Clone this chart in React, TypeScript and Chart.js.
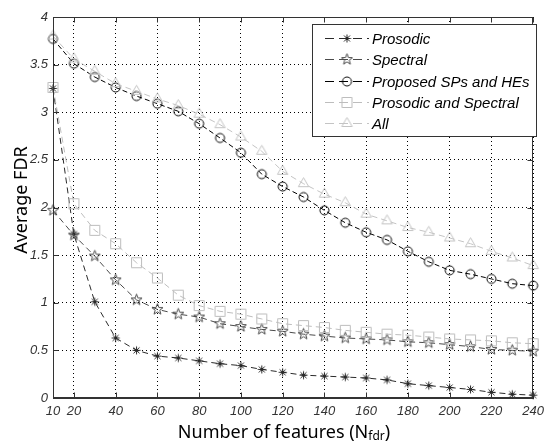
import React, { useEffect, useRef } from "react";
import { Chart, registerables } from "chart.js";

Chart.register(...registerables);

// ---------------- data ----------------
const xValues = [10, 20, 30, 40, 50, 60, 70, 80, 90, 100, 110, 120, 130, 140, 150, 160, 170, 180, 190, 200, 210, 220, 230, 240];
const xTickValues = [10, 20, 40, 60, 80, 100, 120, 140, 160, 180, 200, 220, 240];
const yTickValues = [0, 0.5, 1, 1.5, 2, 2.5, 3, 3.5, 4];

const seriesNames = ["Prosodic", "Spectral", "Proposed SPs and HEs", "Prosodic and Spectral", "All"];

const prosodic = [3.25, 1.72, 1.01, 0.63, 0.50, 0.44, 0.42, 0.39, 0.36, 0.34, 0.30, 0.27, 0.24, 0.23, 0.22, 0.21, 0.19, 0.15, 0.13, 0.11, 0.09, 0.06, 0.04, 0.03];
const spectral = [1.97, 1.71, 1.49, 1.24, 1.03, 0.93, 0.88, 0.85, 0.78, 0.75, 0.72, 0.70, 0.67, 0.65, 0.63, 0.62, 0.61, 0.59, 0.58, 0.56, 0.54, 0.51, 0.50, 0.49];
const proposed = [3.77, 3.51, 3.37, 3.26, 3.17, 3.09, 3.01, 2.88, 2.73, 2.575, 2.35, 2.22, 2.11, 1.97, 1.84, 1.74, 1.66, 1.54, 1.43, 1.34, 1.30, 1.25, 1.20, 1.18];
const prosodicSpectral = [3.26, 2.04, 1.76, 1.62, 1.42, 1.26, 1.08, 0.97, 0.91, 0.88, 0.83, 0.78, 0.76, 0.74, 0.71, 0.69, 0.67, 0.66, 0.64, 0.62, 0.61, 0.60, 0.58, 0.57];
const allFeatures = [3.80, 3.56, 3.43, 3.30, 3.22, 3.14, 3.07, 2.98, 2.87, 2.74, 2.59, 2.38, 2.25, 2.14, 2.05, 1.93, 1.86, 1.79, 1.74, 1.68, 1.62, 1.54, 1.47, 1.39];

const xTitleMain = "Number of features (N";
const xTitleSub = "fdr";
const xTitleEnd = ")";
const yTitle = "Average FDR";

// ---------------- styles ----------------
const seriesColors = ["#2a2a2a", "#4a4a4a", "#000000", "#bdbdbd", "#c4c4c4"];
const seriesMarkers = ["asterisk", "pentagram", "circle", "square", "triangle"];
const seriesDash = [[6, 4], [6, 4], [5, 3], [6, 4], [6, 4]];

function makeMarker(kind: string, color: string): HTMLCanvasElement {
  const S = 17;
  const c = document.createElement("canvas");
  c.width = S;
  c.height = S;
  const g = c.getContext("2d")!;
  const cx = S / 2;
  const cy = S / 2;
  g.strokeStyle = color;
  g.lineWidth = 1;
  g.beginPath();
  if (kind === "asterisk") {
    const r = 4;
    g.moveTo(cx - r, cy); g.lineTo(cx + r, cy);
    g.moveTo(cx, cy - r); g.lineTo(cx, cy + r);
    const d = r * 0.75;
    g.moveTo(cx - d, cy - d); g.lineTo(cx + d, cy + d);
    g.moveTo(cx - d, cy + d); g.lineTo(cx + d, cy - d);
  } else if (kind === "pentagram") {
    const ro = 5.8, ri = 2.4;
    for (let i = 0; i < 10; i++) {
      const r = i % 2 === 0 ? ro : ri;
      const a = -Math.PI / 2 + (i * Math.PI) / 5;
      const px = cx + r * Math.cos(a);
      const py = cy + r * Math.sin(a);
      if (i === 0) g.moveTo(px, py); else g.lineTo(px, py);
    }
    g.closePath();
  } else if (kind === "circle") {
    g.arc(cx, cy, 4.5, 0, Math.PI * 2);
  } else if (kind === "square") {
    g.rect(cx - 5, cy - 5, 10, 10);
  } else if (kind === "triangle") {
    const r = 6;
    g.moveTo(cx, cy - r);
    g.lineTo(cx + r * 0.866, cy + r * 0.5);
    g.lineTo(cx - r * 0.866, cy + r * 0.5);
    g.closePath();
  }
  g.stroke();
  return c;
}

export default function App() {
  const canvasRef = useRef<HTMLCanvasElement | null>(null);

  useEffect(() => {
    const canvas = canvasRef.current;
    if (!canvas) return;

    const seriesValues = [prosodic, spectral, proposed, prosodicSpectral, allFeatures];
    const markers = seriesMarkers.map((m, i) => makeMarker(m, seriesColors[i]));

    const datasets = seriesNames.map((name, i) => ({
      label: name,
      data: xValues.map((x, j) => ({ x, y: seriesValues[i][j] })),
      borderColor: seriesColors[i],
      backgroundColor: seriesColors[i],
      borderWidth: 1,
      borderDash: seriesDash[i],
      pointStyle: markers[i] as any,
      pointRadius: 5,
      pointHoverRadius: 5,
      tension: 0,
      fill: false,
      clip: false as any,
      order: 5 - i,
    }));

    const decorPlugin = {
      id: "decor",
      afterDraw(chart: any) {
        const { ctx, chartArea: a, scales } = chart;
        ctx.save();
        ctx.setLineDash([]);
        // frame
        const L = Math.round(a.left) + 0.5;
        const T = Math.round(a.top) + 0.5;
        const R = Math.round(a.right) - 0.5;
        const B = Math.round(a.bottom) - 0.5;
        ctx.strokeStyle = "#333";
        ctx.lineWidth = 1;
        ctx.strokeRect(L, T, R - L, B - T);
        // inner tick marks
        ctx.beginPath();
        xTickValues.forEach((v) => {
          const px = Math.round(scales.x.getPixelForValue(v)) + 0.5;
          ctx.moveTo(px, B); ctx.lineTo(px, B - 5);
          ctx.moveTo(px, T); ctx.lineTo(px, T + 5);
        });
        yTickValues.forEach((v) => {
          const py = Math.round(scales.y.getPixelForValue(v)) + 0.5;
          ctx.moveTo(L, py); ctx.lineTo(L + 5, py);
          ctx.moveTo(R, py); ctx.lineTo(R - 5, py);
        });
        ctx.stroke();

        // legend
        const bx = 312.5, by = 24.5, bw = 224, bh = 112;
        ctx.fillStyle = "#fff";
        ctx.fillRect(bx, by, bw, bh);
        ctx.strokeStyle = "#333";
        ctx.strokeRect(bx, by, bw, bh);
        ctx.font = 'italic 15px "Liberation Sans"';
        ctx.textBaseline = "middle";
        ctx.textAlign = "left";
        seriesNames.forEach((name, i) => {
          const ry = Math.round(38 + i * 21.3) + 0.5;
          ctx.strokeStyle = seriesColors[i];
          ctx.lineWidth = 1;
          ctx.setLineDash([9, 5]);
          ctx.beginPath();
          ctx.moveTo(325, ry);
          ctx.lineTo(369, ry);
          ctx.stroke();
          ctx.setLineDash([]);
          const m = markers[i];
          ctx.drawImage(m, 347 - m.width / 2, ry - m.height / 2);
          ctx.fillStyle = "#000";
          ctx.fillText(name, 372, ry + 1);
        });

        // x title with subscript
        ctx.fillStyle = "#000";
        ctx.textBaseline = "alphabetic";
        ctx.textAlign = "left";
        const mainFont = '18px "Noto Sans"';
        const subFont = '12px "Noto Sans"';
        ctx.font = mainFont;
        const w1 = ctx.measureText(xTitleMain).width;
        const w3 = ctx.measureText(xTitleEnd).width;
        ctx.font = subFont;
        const w2 = ctx.measureText(xTitleSub).width;
        const total = w1 + w2 + w3;
        let sx = 284 - total / 2;
        const base = 438;
        ctx.font = mainFont;
        ctx.fillText(xTitleMain, sx, base);
        sx += w1;
        ctx.font = subFont;
        ctx.fillText(xTitleSub, sx, base + 2);
        sx += w2;
        ctx.font = mainFont;
        ctx.fillText(xTitleEnd, sx, base);

        // y title
        ctx.translate(27, 200);
        ctx.rotate(-Math.PI / 2);
        ctx.textAlign = "center";
        ctx.font = mainFont;
        ctx.fillText(yTitle, 0, 0);
        ctx.restore();
      },
    };

    const tickFont = { family: "Liberation Sans", size: 13, style: "italic" as const };

    const chart = new Chart(canvas, {
      type: "line",
      data: { datasets: datasets as any },
      options: {
        animation: false,
        responsive: false,
        devicePixelRatio: 1,
        layout: { padding: { top: 17, right: 13, left: 0, bottom: 0 } },
        plugins: {
          legend: { display: false },
          tooltip: { enabled: false },
          title: { display: false },
        },
        scales: {
          x: {
            type: "linear",
            min: 10,
            max: 240,
            afterBuildTicks: (scale: any) => {
              scale.ticks = xTickValues.map((v) => ({ value: v }));
            },
            afterFit: (scale: any) => {
              scale.height = 46;
            },
            ticks: {
              font: tickFont,
              color: "#333",
              padding: 6,
              maxRotation: 0,
              autoSkip: false,
              callback: (v: any) => String(v),
            },
            grid: { color: "#000", lineWidth: 1, drawTicks: false },
            border: { display: true, color: "#333", width: 1, dash: [1, 3] },
          },
          y: {
            type: "linear",
            min: 0,
            max: 4,
            afterBuildTicks: (scale: any) => {
              scale.ticks = yTickValues.map((v) => ({ value: v }));
            },
            afterFit: (scale: any) => {
              scale.width = 53;
            },
            ticks: {
              font: tickFont,
              color: "#333",
              padding: 5,
              autoSkip: false,
              callback: (v: any) => String(v),
            },
            grid: { color: "#000", lineWidth: 1, drawTicks: false },
            border: { display: true, color: "#333", width: 1, dash: [1, 3] },
          },
        },
      },
      plugins: [decorPlugin],
    });

    return () => {
      chart.destroy();
    };
  }, []);

  return (
    <div style={{ position: "fixed", left: 0, top: 0, width: 550, height: 444, background: "#fff" }}>
      <canvas ref={canvasRef} width={550} height={444} style={{ width: 550, height: 444, display: "block" }} />
    </div>
  );
}
